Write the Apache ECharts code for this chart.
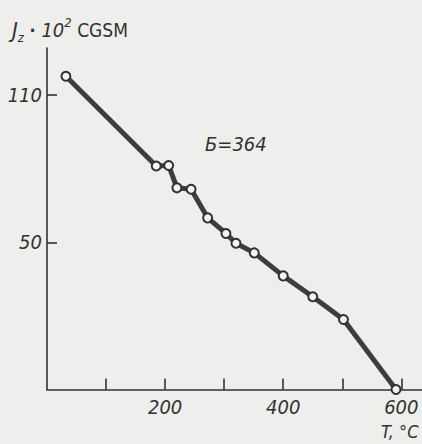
<!DOCTYPE html>
<html>
<head>
<meta charset="utf-8">
<script src="https://cdn.jsdelivr.net/npm/echarts@6/dist/echarts.min.js"></script>
<style>
html,body{margin:0;padding:0;background:#eeeeec;}
#c{width:422px;height:444px;}
</style>
</head>
<body>
<div id="c"></div>
<script>
// Data
var temperatureC = [32, 185, 206, 220, 244, 272, 303, 320, 351, 400, 450, 502, 591];
var magnetization = [106.4, 75.9, 76.1, 68.5, 68.0, 58.3, 53.0, 49.7, 46.4, 38.6, 31.5, 23.8, 0];
var xTickValues = [100, 200, 300, 400, 500, 600];
var xLabelValues = [200, 400, 600];
var yTickValues = [50, 100];
var yTickLabels = ['50', '110'];
var annotationText = 'Б=364';

var FONT = '"DejaVu Sans Condensed", "DejaVu Sans", sans-serif';
var INK = '#2f332f';

var points = temperatureC.map(function (t, i) { return [t, magnetization[i]]; });

var chart = echarts.init(document.getElementById('c'), null, {renderer: 'svg'});
chart.setOption({
  backgroundColor: '#eeeeec',
  animation: false,
  grid: {left: 47, right: 0, top: 48, bottom: 54.5},
  xAxis: {
    type: 'value', min: 0, max: 635,
    splitLine: {show: false},
    axisLine: {lineStyle: {color: INK, width: 1.6}},
    axisTick: {inside: true, length: 11, customValues: xTickValues, lineStyle: {color: INK, width: 1.6}},
    axisLabel: {
      customValues: xLabelValues, margin: 7,
      fontFamily: FONT, fontStyle: 'italic', fontSize: 20, color: INK, lineHeight: 20
    }
  },
  yAxis: {
    type: 'value', min: 0, max: 116,
    splitLine: {show: false},
    axisLine: {lineStyle: {color: INK, width: 1.6}},
    axisTick: {inside: true, length: 10, customValues: yTickValues, lineStyle: {color: INK, width: 1.6}},
    axisLabel: {
      customValues: yTickValues, margin: 5,
      fontFamily: FONT, fontStyle: 'italic', fontSize: 20, color: INK,
      formatter: function (v) {
        var i = yTickValues.indexOf(v);
        return i >= 0 ? yTickLabels[i] : '';
      }
    }
  },
  series: [{
    type: 'line',
    data: points,
    clip: false,
    lineStyle: {color: '#3a3f3a', width: 5},
    symbol: 'circle', symbolSize: 9,
    itemStyle: {color: '#f4f4f2', borderColor: INK, borderWidth: 2}
  }],
  graphic: [
    {
      type: 'text', left: 12, top: 16,
      style: {
        text: '{j|J}{sub|z}{d| · }{n|10}{sup|2}{t| CGSM}',
        fill: INK,
        rich: {
          j: {fontFamily: FONT, fontStyle: 'italic', fontSize: 22, color: INK, lineHeight: 28, verticalAlign: 'middle'},
          sub: {fontFamily: FONT, fontStyle: 'italic', fontSize: 13, color: INK, lineHeight: 28, verticalAlign: 'bottom'},
          d: {fontFamily: FONT, fontSize: 18, fontWeight: 'bold', color: INK, lineHeight: 28, verticalAlign: 'middle'},
          n: {fontFamily: FONT, fontStyle: 'italic', fontSize: 20, color: INK, lineHeight: 28, verticalAlign: 'middle'},
          sup: {fontFamily: FONT, fontStyle: 'italic', fontSize: 13, color: INK, lineHeight: 28, verticalAlign: 'top'},
          t: {fontFamily: FONT, fontSize: 19, color: INK, lineHeight: 28, verticalAlign: 'middle'}
        }
      }
    },
    {
      type: 'text', left: 205, top: 134,
      style: {text: annotationText, fontFamily: FONT, fontStyle: 'italic', fontSize: 20, fill: INK}
    },
    {
      type: 'text', left: 381, top: 422,
      style: {text: 'T, °C', fontFamily: FONT, fontStyle: 'italic', fontSize: 18, fill: INK}
    }
  ]
});
</script>
</body>
</html>
